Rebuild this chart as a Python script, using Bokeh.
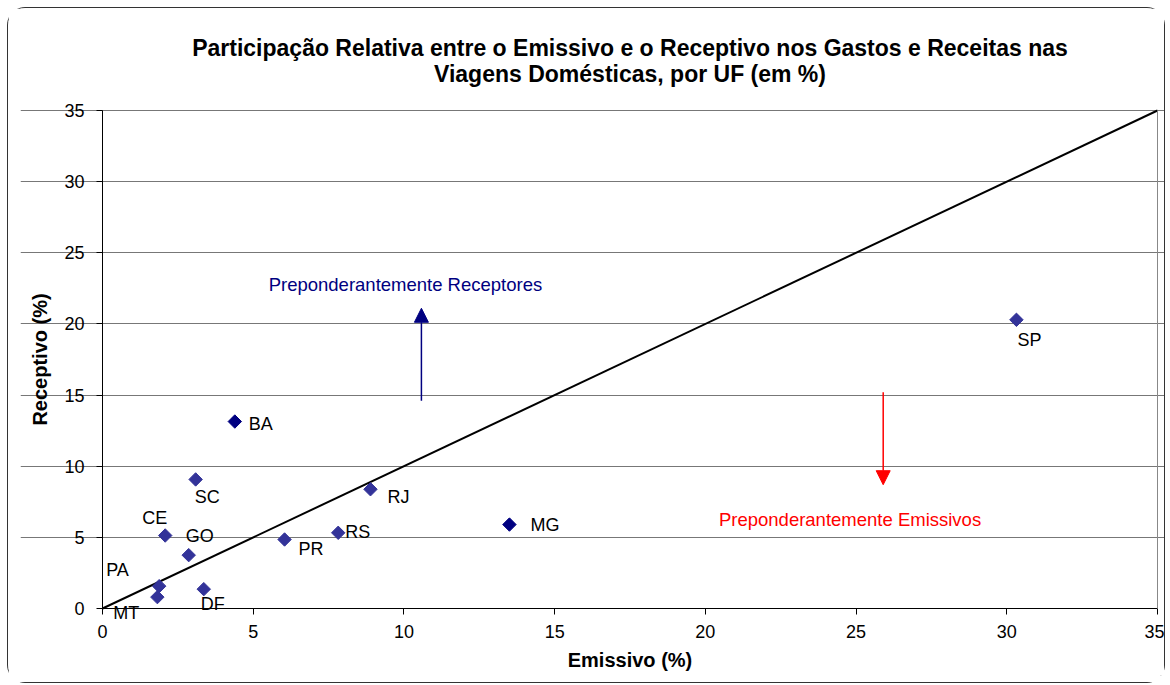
import math
from bokeh.plotting import figure
from bokeh.models import Range1d, Arrow, NormalHead, FixedTicker, ColumnDataSource, LinearAxis
from bokeh.embed import file_html
from bokeh.resources import INLINE
from bokeh.core.properties import value

# Data
ufs = ["BA", "SC", "CE", "GO", "PA", "MT", "DF", "PR", "RS", "RJ", "MG", "SP"]
emissivo = [4.39, 3.09, 2.08, 2.86, 1.88, 1.82, 3.36, 6.04, 7.82, 8.89, 13.5, 30.32]
receptivo = [13.14, 9.07, 5.13, 3.75, 1.57, 0.80, 1.36, 4.85, 5.32, 8.38, 5.9, 20.29]
diag_x = [0, 35]
diag_y = [0, 35]
ticks = [0, 5, 10, 15, 20, 25, 30, 35]
title_lines = ["Participação Relativa entre o Emissivo e o Receptivo nos Gastos e Receitas nas",
               "Viagens Domésticas, por UF (em %)"]
annot_text = ["Preponderantemente Receptores", "Preponderantemente Emissivos"]
annot_x = [10.05, 24.8]
annot_y = [22.8, 6.25]

# label placement (screen px offsets from marker; dy positive = downwards)
label_dx = [14, -1, -23, -3, -53, -44, -3, 14, 7, 17, 21, 1]
label_dy = [2, 18, -18, -19, -16, 16, 15, 10, -1, 8, 0, 20]
colors = ["#000080", "#333399", "#333399", "#333399", "#333399", "#333399",
          "#333399", "#333399", "#333399", "#333399", "#000080", "#333399"]

FONT = "Liberation Sans"
lo, hi = ticks[0], ticks[-1]
# pixel scales of the plotting area (498 px for 35 units vertically, 1055 px horizontally)
ys = 498 / (hi - lo)
xs = 1055 / (hi - lo)

p = figure(width=1158, height=676, output_backend="svg", toolbar_location=None,
           x_range=Range1d(lo - 82 / xs, hi + 9 / xs), y_range=Range1d(lo - 67 / ys, hi + 80 / ys),
           x_axis_location=None, y_axis_location=None,
           min_border_left=12, min_border_right=0, min_border_top=22, min_border_bottom=9)
p.styles = {"margin-left": "7px", "margin-top": "7px",
            "border": "1px solid #333333", "border-radius": "18px"}
p.title.text = ""

xaxis = LinearAxis(fixed_location=lo, bounds=(lo, hi), axis_label="Emissivo (%)")
yaxis = LinearAxis(fixed_location=lo, bounds=(lo, hi), axis_label="Receptivo (%)")
for ax in (xaxis, yaxis):
    ax.ticker = FixedTicker(ticks=ticks)
    ax.major_label_text_font = FONT
    ax.major_label_text_font_size = "18px"
    ax.major_label_text_color = "black"
    ax.axis_label_text_font = FONT
    ax.axis_label_text_font_size = "20px"
    ax.axis_label_text_font_style = "bold"
    ax.axis_label_text_color = "black"
    ax.axis_line_color = "black"
    ax.major_tick_line_color = "black"
    ax.major_tick_out = 6
    ax.major_tick_in = 0
    ax.minor_tick_line_color = None
xaxis.major_label_standoff = 10
yaxis.major_label_standoff = 12
xaxis.axis_label_standoff = 8
yaxis.axis_label_standoff = 10
p.add_layout(xaxis, "below")
p.add_layout(yaxis, "left")

# right border of the plot area
raxis = LinearAxis(fixed_location=hi, bounds=(lo, hi), ticker=FixedTicker(ticks=[]),
                   axis_line_color="#888888", major_tick_line_color=None,
                   minor_tick_line_color=None, major_label_text_font_size="0px")
p.add_layout(raxis, "right")

p.xgrid.grid_line_color = None
p.ygrid.ticker = FixedTicker(ticks=ticks[1:])
p.ygrid.bounds = (lo, hi)
p.ygrid.grid_line_color = "#777777"
p.ygrid.grid_line_width = 1
p.outline_line_color = None
p.background_fill_color = "white"
p.border_fill_color = "white"

# title
p.text([(lo + hi) / 2] * 2, [hi, hi], text=title_lines, y_offset=[-63, -37],
       text_font=value(FONT), text_font_size="23px", text_font_style="bold",
       text_color="black", text_align="center", text_baseline="middle")

# diagonal
p.line(diag_x, diag_y, line_color="black", line_width=2)

src = ColumnDataSource(dict(x=emissivo, y=receptivo, uf=ufs, dx=label_dx, dy=label_dy, c=colors))
p.scatter("x", "y", source=src, marker="square", size=9.5, angle=math.pi / 4,
          fill_color="c", line_color="c")
p.text("x", "y", text="uf", source=src, x_offset="dx", y_offset="dy",
       text_font=value(FONT), text_font_size="18px", text_color="black",
       text_align="left", text_baseline="middle")

# annotations
p.add_layout(Arrow(x_start=10.58, y_start=14.6, x_end=10.58, y_end=21.1,
                   line_color="#000080", line_width=1.5,
                   end=NormalHead(size=14, fill_color="#000080", line_color="#000080")))
p.add_layout(Arrow(x_start=25.9, y_start=15.2, x_end=25.9, y_end=8.7,
                   line_color="#ff0000", line_width=1.5,
                   end=NormalHead(size=14, fill_color="#ff0000", line_color="#ff0000")))
p.text(annot_x, annot_y, text=annot_text, text_font=value(FONT),
       text_font_size="18.5px", text_color=["#000080", "#ff0000"],
       text_align="center", text_baseline="middle")

open("out.html", "w").write(file_html(p, INLINE))
